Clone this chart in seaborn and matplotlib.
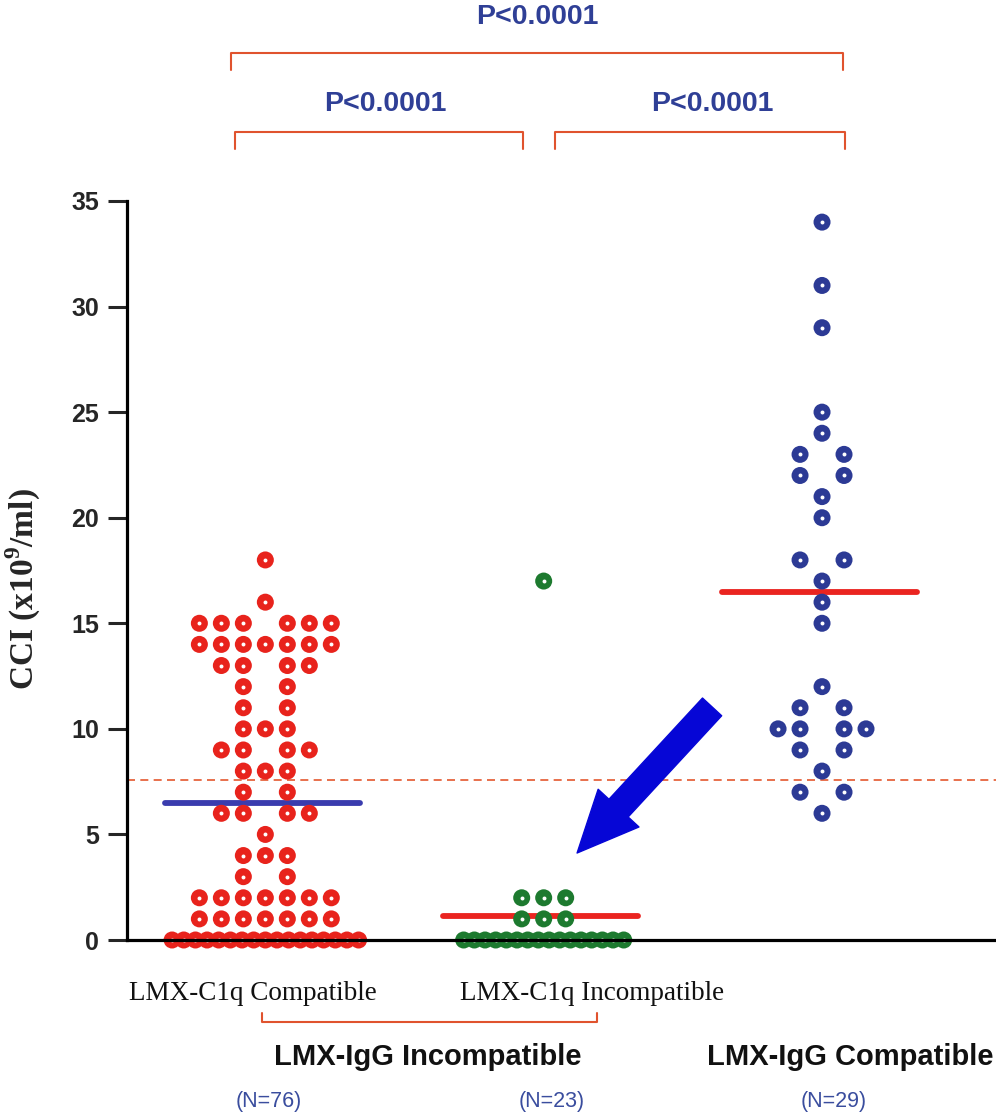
import numpy as np
import pandas as pd
import matplotlib
matplotlib.use("Agg")
import matplotlib.pyplot as plt
import seaborn as sns
from matplotlib.transforms import blended_transform_factory

# ---------------- data ----------------
groups = ["LMX-C1q Compatible", "LMX-C1q Incompatible", "LMX-IgG Compatible"]
group_n = ["(N=76)", "(N=23)", "(N=29)"]
igg_labels = ["LMX-IgG Incompatible", "LMX-IgG Compatible"]

c1q_compat_levels = [18, 16, 15, 14, 13, 12, 11, 10, 9, 8, 7, 6, 5, 4, 3, 2, 1, 0]
c1q_compat_counts = [1, 1, 6, 7, 4, 2, 2, 3, 4, 3, 2, 4, 1, 3, 2, 7, 7, 17]
c1q_incompat_levels = [17, 2, 1, 0]
c1q_incompat_counts = [1, 3, 3, 16]
igg_compat_levels = [34, 31, 29, 25, 24, 23, 22, 21, 20, 18, 17, 16, 15, 12, 11, 10, 9, 8, 7, 6]
igg_compat_counts = [1, 1, 1, 1, 1, 2, 2, 1, 1, 2, 1, 1, 1, 1, 2, 4, 2, 1, 2, 1]

cutoff = 7.6
y_ticks = [0, 5, 10, 15, 20, 25, 30, 35]
p_labels = ["P<0.0001", "P<0.0001", "P<0.0001"]

# ---------------- style ----------------
group_colors = ["#e8231c", "#1d7a2f", "#2c3a95"]
mean_colors = ["#3a3cae", "#ea2420", "#ea2420"]
row_span = [0.67, 0.575, 0.6]
col_step = 0.079
bracket_color = "#e0532e"
ptext_color = "#2f3f96"


def row_offsets(n, max_span):
    """Column slots for n equal values (GraphPad-like: even rows leave the centre free)."""
    if n == 1:
        return np.array([0.0])
    if (n - 1) * col_step > max_span:
        return (np.arange(n) - (n - 1) / 2.0) * (max_span / (n - 1))
    if n % 2 == 0:
        half = np.arange(1, n // 2 + 1) * col_step
        return np.concatenate([-half[::-1], half])
    return (np.arange(n) - (n - 1) / 2.0) * col_step


# ---------------- build table ----------------
level_sets = [(c1q_compat_levels, c1q_compat_counts),
              (c1q_incompat_levels, c1q_incompat_counts),
              (igg_compat_levels, igg_compat_counts)]
rows = []
for gi, (levels, counts) in enumerate(level_sets):
    for v, c in zip(levels, counts):
        for o in row_offsets(c, row_span[gi]):
            rows.append({"group": groups[gi], "gi": gi, "value": v, "x": gi + o})
df = pd.DataFrame(rows)

sns.set_style("white")
plt.rcParams["font.family"] = ["Liberation Sans", "DejaVu Sans"]
plt.rcParams["mathtext.fontset"] = "custom"
plt.rcParams["mathtext.rm"] = "Liberation Serif:bold"
plt.rcParams["mathtext.bf"] = "Liberation Serif:bold"

fig = plt.figure(figsize=(9.96, 11.14), dpi=100)
ax = fig.add_axes([127 / 996, 174 / 1114, 869 / 996, 739 / 1114])

sns.scatterplot(data=df, x="x", y="value", hue="group",
                palette=dict(zip(groups, group_colors)), s=150, linewidth=0,
                legend=False, ax=ax, clip_on=False, zorder=1)
sns.scatterplot(data=df, x="x", y="value", color="white", s=8, linewidth=0,
                legend=False, ax=ax, clip_on=False, zorder=1.1)

means = df.groupby("gi")["value"].mean()
for gi, m in means.items():
    ax.hlines(m, gi - 0.36, gi + 0.34, colors=mean_colors[gi], lw=4.2, zorder=0.9,
              capstyle="round")

ax.axhline(cutoff, color="#e4572e", lw=1.2, ls=(0, (4.8, 3.2)), zorder=0.8)

ax.set_xlim(-0.497, 2.625)
ax.set_ylim(0, 35)
ax.set_xticks([])
ax.set_yticks(y_ticks)
ax.set_xlabel("")
for s in ["top", "right"]:
    ax.spines[s].set_visible(False)
for s in ["left", "bottom"]:
    ax.spines[s].set_linewidth(2.3)
    ax.spines[s].set_color("black")
ax.tick_params(axis="y", length=14, width=2.2, direction="out", pad=6,
               labelsize=18, left=True)
for lab in ax.get_yticklabels():
    lab.set_fontweight("bold")

ax.set_ylabel("CCI (x10$^{9}$/ml)", fontfamily="Liberation Serif",
              fontweight="bold", fontsize=24)
ax.yaxis.set_label_coords(-0.097, 0.475)

trans = blended_transform_factory(ax.transData, ax.transAxes)

# top brackets: (left x, right x, bar y, tick-bottom y, text x, text y)
brackets = [(-0.122, 2.075, 1.200, 1.177, 0.977, 1.249),
            (-0.108, 0.926, 1.093, 1.071, 0.431, 1.131),
            (1.041, 2.083, 1.093, 1.071, 1.605, 1.131)]
for (x0, x1, yb, yt, tx, ty), lab in zip(brackets, p_labels):
    ax.plot([x0, x0, x1, x1], [yt, yb, yb, yt], color=bracket_color, lw=1.5,
            transform=trans, clip_on=False)
    ax.text(tx, ty, lab, transform=trans, ha="center", va="center",
            fontsize=20.5, fontweight="bold", color=ptext_color)

# category labels
cat_x = [-0.043, 1.174]
for x, lab in zip(cat_x, groups[:2]):
    ax.text(x, -0.072, lab, transform=trans, ha="center", va="center",
            fontsize=19.5, fontfamily="Liberation Serif", color="#111111")

# lower bracket
ax.plot([-0.011, -0.011, 1.192, 1.192], [-0.099, -0.111, -0.111, -0.099],
        color=bracket_color, lw=1.5, transform=trans, clip_on=False)

igg_x = [0.582, 2.10]
for x, lab in zip(igg_x, igg_labels):
    ax.text(x, -0.158, lab, transform=trans, ha="center", va="center",
            fontsize=21, fontweight="bold", color="#111111")

n_x = [0.011, 1.027, 2.043]
for x, lab in zip(n_x, group_n):
    ax.text(x, -0.219, lab, transform=trans, ha="center", va="center",
            fontsize=15.5, color="#3a4d9e")

# blue arrow
ax.annotate("", xy=(1.120, 4.12), xytext=(1.605, 11.04), xycoords="data",
            arrowprops=dict(arrowstyle="simple,head_length=1.1,head_width=1.0,tail_width=0.47",
                            color="#0606d6", shrinkA=0, shrinkB=0, mutation_scale=40),
            annotation_clip=False, zorder=5)

fig.savefig("out.png", dpi=100)
